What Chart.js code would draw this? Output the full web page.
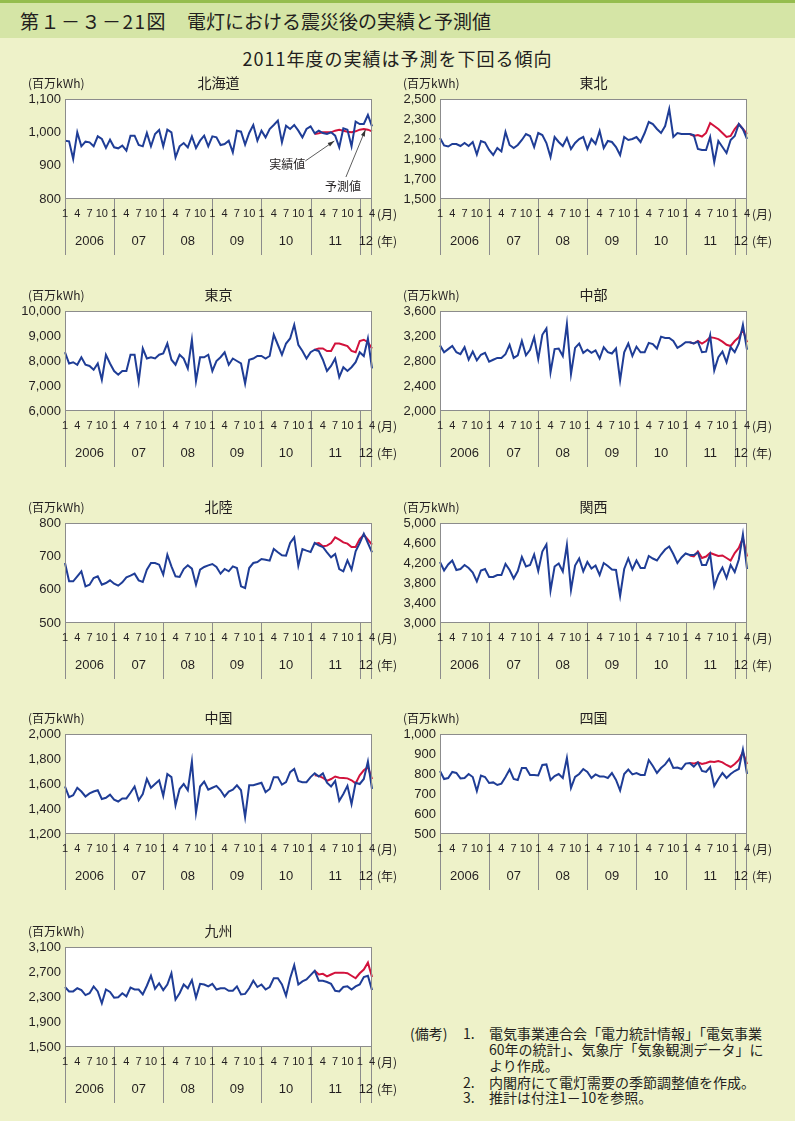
<!DOCTYPE html>
<html lang="ja">
<head>
<meta charset="utf-8">
<script src="https://cdn.jsdelivr.net/npm/chart.js@4"></script>
<style>
  body { margin: 0; width: 795px; height: 1121px; background: #eef2c9; position: relative; overflow: hidden;
         font-family: "Noto Sans CJK JP", sans-serif; color: #231f20; }
  #head { position: absolute; left: 0; top: 0; width: 795px; height: 35px; background: #d5e5a6; border-top: 3px solid #95bd4e; }
  #head .no { position: absolute; left: 20px; top: 4px; font-size: 19px; letter-spacing: 1.5px; white-space: pre; }
  #head .tt { position: absolute; left: 187px; top: 4px; font-size: 19px; white-space: pre; }
  #sub { position: absolute; top: 45px; left: 0; width: 795px; text-align: center; font-size: 18px; letter-spacing: 1px; }
  canvas { position: absolute; }
  .note { position: absolute; font-size: 14px; line-height: 16px; white-space: pre; }
</style>
</head>
<body>
<div id="head"><div class="no">第１－３－21図</div><div class="tt">電灯における震災後の実績と予測値</div></div>
<div id="sub">2011年度の実績は予測を下回る傾向</div>

<canvas id="c0" width="400" height="196"></canvas>
<canvas id="c1" width="400" height="196"></canvas>
<canvas id="c2" width="400" height="196"></canvas>
<canvas id="c3" width="400" height="196"></canvas>
<canvas id="c4" width="400" height="196"></canvas>
<canvas id="c5" width="400" height="196"></canvas>
<canvas id="c6" width="400" height="196"></canvas>
<canvas id="c7" width="400" height="196"></canvas>
<canvas id="c8" width="400" height="196"></canvas>

<div class="note" style="left:410px;top:1025px">(備考)</div>
<div class="note" style="left:463px;top:1025px">1.</div>
<div class="note" style="left:489px;top:1025px">電気事業連合会「電力統計情報」「電気事業</div>
<div class="note" style="left:489px;top:1041px">60年の統計」、気象庁「気象観測データ」に</div>
<div class="note" style="left:489px;top:1057px">より作成。</div>
<div class="note" style="left:463px;top:1074px">2.</div>
<div class="note" style="left:489px;top:1074px">内閣府にて電灯需要の季節調整値を作成。</div>
<div class="note" style="left:463px;top:1089px">3.</div>
<div class="note" style="left:489px;top:1089px">推計は付注1－10を参照。</div>

<script>
// 横軸：2006年1月～2012年4月（月次）
const years = ['2006', '07', '08', '09', '10', '11', '12'];
const monthTicks = [1, 4, 7, 10];
const lastMonth = 4;
const forecastStart = 61; // 予測値は2011年2月から

// 実績値（百万kWh）
const hokkaidoActual = [
  975, 973, 920, 1000, 958, 972, 970, 958, 988, 980, 953, 978,
  955, 952, 960, 945, 990, 990, 962, 958, 998, 958, 995, 1007,
  958, 1008, 1000, 925, 958, 968, 955, 988, 953, 975, 990, 958,
  988, 985, 962, 965, 975, 940, 1005, 1002, 963, 998, 1022, 975,
  1005, 985, 1010, 1022, 1035, 970, 1020, 1010, 1022, 1005, 985, 1010,
  1018, 997, 1005, 998, 995, 1000, 990, 955, 1012, 1008, 958, 1032,
  1025, 1025, 1052, 1018
];
const tohokuActual = [
  2110, 2035, 2025, 2050, 2050, 2030, 2060, 2030, 2070, 1945, 2080, 2065,
  1990, 1940, 2010, 1975, 2170, 2040, 2010, 2040, 2090, 2150, 2130, 2020,
  2160, 2140, 2060, 1920, 2120, 2070, 2030, 2110, 2000, 2060, 2100, 2120,
  2000, 2100, 2050, 2180, 2010, 2080, 2070, 2020, 1940, 2120, 2090, 2100,
  2120, 2070, 2160, 2270, 2250, 2200, 2160, 2230, 2400, 2120, 2160, 2150,
  2150, 2150, 2140, 2000, 1990, 1990, 2120, 1870, 2080, 2020, 1960, 2090,
  2130, 2250, 2200, 2100
];
const tokyoActual = [
  8350, 7900, 7950, 7850, 8150, 7850, 7800, 7650, 7900, 7250, 8250, 7900,
  7600, 7450, 7600, 7600, 8250, 8250, 7180, 8500, 8100, 8150, 8100, 8250,
  8300, 8700, 8050, 7850, 8250, 8100, 7700, 8850, 7200, 8150, 8150, 8250,
  7600, 8000, 8150, 8350, 7850, 8100, 8000, 7900, 7100, 8050, 8100, 8200,
  8200, 8100, 8200, 9050, 8650, 8250, 8700, 8900, 9450, 8650, 8400, 8100,
  8350, 8450, 8400, 8050, 7600, 7800, 8100, 7350, 7750, 7600, 7750, 7950,
  8350, 8200, 8900, 7700
];
const chubuActual = [
  3050, 2940, 2990, 3040, 2940, 2910, 3020, 2820, 2950, 2810, 2900, 2930,
  2790, 2820, 2850, 2850, 2910, 3060, 2850, 2890, 3120, 2890, 2980, 3180,
  2830, 3220, 3320, 2620, 2990, 3000, 2880, 3390, 2590, 3010, 3080, 2930,
  2980, 2930, 2970, 2840, 3020, 2940, 2920, 3000, 2490, 2940, 3080, 2880,
  3030, 2940, 2940, 3090, 3070, 3000, 3190, 3170, 3170, 3120, 3010, 3050,
  3100, 3100, 3080, 3110, 2940, 2950, 3210, 2650, 2860, 2950, 2780, 3020,
  2940, 3080, 3380, 2980
];
const hokurikuActual = [
  680, 625, 625, 640, 655, 610, 615, 635, 640, 615, 620, 628,
  618, 612, 622, 637, 642, 648, 628, 623, 660, 680, 680, 675,
  645, 705, 670, 640, 638, 662, 673, 663, 615, 660, 668, 673,
  677, 668, 648, 662, 655, 670, 665, 610, 605, 665, 680, 683,
  692, 690, 687, 722, 712, 703, 702, 740, 757, 672, 722, 717,
  713, 740, 733, 728, 712, 697, 707, 662, 655, 688, 660, 715,
  740, 768, 740, 712
];
const kansaiActual = [
  4220, 4050, 4170, 4250, 4060, 4080, 4160, 4100, 4010, 3830, 4050, 4080,
  3920, 3920, 3960, 3960, 4180, 4060, 3890, 4040, 4320, 4130, 4160, 4370,
  4040, 4430, 4570, 3650, 4130, 4190, 4030, 4560, 3660, 4150, 4290, 4030,
  4220, 4090, 4150, 3960, 4200, 4140, 4070, 4060, 3540, 4080, 4290, 4070,
  4250, 4100, 4100, 4340, 4290, 4250, 4370, 4470, 4530, 4380, 4200, 4310,
  4390, 4360, 4360, 4410, 4160, 4160, 4370, 3730, 3960, 4110, 3900, 4160,
  4020, 4270, 4770, 4080
];
const chugokuActual = [
  1580, 1495, 1510, 1570, 1540, 1500, 1525, 1540, 1550, 1480, 1490, 1515,
  1475, 1460, 1485, 1485, 1530, 1580, 1470, 1520, 1640, 1570, 1600, 1630,
  1505, 1680, 1655, 1430, 1560, 1600, 1550, 1780, 1370, 1580, 1620, 1555,
  1570, 1585, 1550, 1500, 1540, 1555, 1590, 1550, 1335, 1590, 1590, 1600,
  1610, 1535, 1560, 1655, 1655, 1595, 1615, 1695, 1720, 1625, 1615, 1615,
  1655, 1685, 1660, 1685, 1610, 1580, 1625, 1465, 1520, 1585, 1440, 1610,
  1600, 1640, 1780, 1560
];
const shikokuActual = [
  815, 775, 780, 810, 805, 778, 780, 800, 785, 715, 792, 785,
  755, 758, 745, 752, 785, 822, 775, 770, 830, 830, 795, 795,
  793, 845, 848, 770, 790, 800, 780, 880, 730, 785, 800, 825,
  810, 780, 798, 788, 788, 780, 805, 770, 718, 800, 822, 798,
  805, 795, 795, 870, 840, 805, 830, 848, 875, 830, 832, 825,
  852, 855, 837, 858, 815, 810, 835, 740, 775, 805, 780, 800,
  815, 825, 922, 800
];
const kyushuActual = [
  2460, 2390, 2390, 2440, 2410, 2330, 2360, 2470, 2390, 2200, 2420, 2380,
  2290, 2295, 2360, 2310, 2450, 2420, 2420, 2340, 2480, 2640, 2430, 2520,
  2410, 2500, 2680, 2260, 2360, 2500, 2440, 2570, 2290, 2510, 2500, 2470,
  2510, 2420, 2440, 2440, 2400, 2400, 2470, 2340, 2350, 2440, 2560, 2460,
  2500, 2420, 2460, 2600, 2600, 2500, 2320, 2600, 2810, 2500, 2550, 2580,
  2650, 2720, 2560, 2560, 2540, 2510, 2400, 2390, 2460, 2470, 2420, 2470,
  2500, 2620, 2640, 2410
];

// 予測値（2011年2月～2012年4月）
const hokkaidoForecast = [995, 997, 1000, 1000, 1000, 1005, 1008, 1005, 1002, 1000, 1003, 1008, 1010, 1008, 1003];
const tohokuForecast = [2150, 2130, 2140, 2125, 2160, 2260, 2230, 2200, 2160, 2120, 2130, 2200, 2250, 2200, 2150];
const tokyoForecast = [8450, 8500, 8500, 8400, 8400, 8700, 8700, 8650, 8600, 8400, 8350, 8800, 8850, 8750, 8500];
const chubuForecast = [3100, 3080, 3120, 3080, 3120, 3180, 3170, 3150, 3110, 3060, 3040, 3120, 3180, 3300, 3100];
const hokurikuForecast = [738, 740, 730, 732, 740, 757, 750, 742, 738, 728, 728, 752, 765, 750, 735];
const kansaiForecast = [4350, 4330, 4430, 4300, 4330, 4400, 4370, 4340, 4350, 4300, 4250, 4400, 4500, 4700, 4330];
const chugokuForecast = [1670, 1665, 1650, 1625, 1640, 1660, 1650, 1648, 1645, 1630, 1605, 1670, 1710, 1735, 1640];
const shikokuForecast = [855, 852, 858, 850, 855, 862, 860, 865, 858, 845, 835, 850, 870, 910, 850];
const kyushuForecast = [2720, 2660, 2670, 2630, 2660, 2690, 2690, 2690, 2680, 2640, 2600, 2680, 2740, 2850, 2620];

const BLUE = '#1f3d96';
const RED = '#d2123c';
const GRAY = '#8c8c8c';
const TEXT = '#231f20';
const rowTops = [99, 311, 523, 734, 947];

// 月ラベル
const months = [];
years.forEach((y, yi) => {
  for (let m = 1; m <= 12; m++) {
    if (yi === years.length - 1 && m > lastMonth) break;
    months.push(y + '/' + m);
  }
});

const panels = [
  { name: '北海道', col: 0, row: 0, min: 800, max: 1100, step: 100, actual: hokkaidoActual, forecast: hokkaidoForecast,
    callouts: [
      { text: '実績値', at: [54.3, 905], from: [18, -3], tip: [65.8, 974] },
      { text: '予測値', at: [67.9, 839], from: [3, -9], tip: [73.4, 1008] }
    ] },
  { name: '東北', col: 1, row: 0, min: 1500, max: 2500, step: 200, actual: tohokuActual, forecast: tohokuForecast },
  { name: '東京', col: 0, row: 1, min: 6000, max: 10000, step: 1000, actual: tokyoActual, forecast: tokyoForecast },
  { name: '中部', col: 1, row: 1, min: 2000, max: 3600, step: 400, actual: chubuActual, forecast: chubuForecast },
  { name: '北陸', col: 0, row: 2, min: 500, max: 800, step: 100, actual: hokurikuActual, forecast: hokurikuForecast },
  { name: '関西', col: 1, row: 2, min: 3000, max: 5000, step: 400, actual: kansaiActual, forecast: kansaiForecast },
  { name: '中国', col: 0, row: 3, min: 1200, max: 2000, step: 200, actual: chugokuActual, forecast: chugokuForecast },
  { name: '四国', col: 1, row: 3, min: 500, max: 1000, step: 100, actual: shikokuActual, forecast: shikokuForecast },
  { name: '九州', col: 0, row: 4, min: 1500, max: 3100, step: 400, actual: kyushuActual, forecast: kyushuForecast }
];

// 枠・月/年の目盛り・見出しを描く
const deco = {
  id: 'deco',
  beforeDraw(chart) {
    const { ctx, chartArea: a } = chart;
    ctx.save();
    ctx.fillStyle = '#ffffff';
    ctx.fillRect(a.left, a.top, a.width, a.height);
    ctx.restore();
  },
  afterDraw(chart, args, opt) {
    const { ctx, chartArea: a } = chart;
    const x = chart.scales.x, y = chart.scales.y;
    ctx.save();
    ctx.strokeStyle = GRAY;
    ctx.lineWidth = 1;
    ctx.strokeRect(Math.round(a.left) + 0.5, Math.round(a.top) + 0.5, Math.round(a.width) - 1, Math.round(a.height) - 1);

    const bounds = years.map((yy, i) => x.getPixelForValue(i * 12));
    bounds.push(a.right);
    ctx.beginPath();
    bounds.forEach((px, i) => {
      const p = i === bounds.length - 1 ? Math.round(px) - 0.5 : Math.round(px) + 0.5;
      ctx.moveTo(p, a.bottom);
      ctx.lineTo(p, a.bottom + 56);
    });
    ctx.stroke();

    ctx.fillStyle = TEXT;
    ctx.textAlign = 'center';
    ctx.textBaseline = 'middle';
    ctx.font = '11px "Liberation Sans"';
    years.forEach((yy, yi) => {
      monthTicks.forEach(m => {
        const idx = yi * 12 + m - 1;
        if (idx < months.length) ctx.fillText(String(m), x.getPixelForValue(idx), a.bottom + 15);
      });
    });
    ctx.font = '13px "Liberation Sans"';
    years.forEach((yy, yi) => ctx.fillText(yy, (bounds[yi] + bounds[yi + 1]) / 2, a.bottom + 42));

    ctx.textAlign = 'left';
    ctx.font = '12px "Noto Sans CJK JP"';
    ctx.fillText('(月)', a.right + 5, a.bottom + 15);
    ctx.fillText('(年)', a.right + 5, a.bottom + 42);
    ctx.fillText('(百万kWh)', a.left - 37, a.top - 16);
    ctx.textAlign = 'center';
    ctx.font = '14px "Noto Sans CJK JP"';
    ctx.fillText(opt.title, (a.left + a.right) / 2, a.top - 16);

    (opt.callouts || []).forEach(c => {
      const lx = x.getPixelForValue(c.at[0]), ly = y.getPixelForValue(c.at[1]);
      const sx = lx + c.from[0], sy = ly + c.from[1];
      const tx = x.getPixelForValue(c.tip[0]), ty = y.getPixelForValue(c.tip[1]);
      ctx.font = '12px "Noto Sans CJK JP"';
      ctx.fillStyle = TEXT;
      ctx.fillText(c.text, lx, ly);
      ctx.strokeStyle = '#333';
      ctx.lineWidth = 0.8;
      ctx.beginPath();
      ctx.moveTo(sx, sy);
      ctx.lineTo(tx, ty);
      ctx.stroke();
      const ang = Math.atan2(ty - sy, tx - sx);
      ctx.fillStyle = '#333';
      ctx.beginPath();
      ctx.moveTo(tx, ty);
      ctx.lineTo(tx - 7 * Math.cos(ang - 0.3), ty - 7 * Math.sin(ang - 0.3));
      ctx.lineTo(tx - 7 * Math.cos(ang + 0.3), ty - 7 * Math.sin(ang + 0.3));
      ctx.closePath();
      ctx.fill();
    });
    ctx.restore();
  }
};

panels.forEach((p, i) => {
  const cv = document.getElementById('c' + i);
  const plotLeft = p.col ? 45 : 65;
  cv.style.left = (p.col ? 395 : 0) + 'px';
  cv.style.top = (rowTops[p.row] - 32) + 'px';
  const forecastData = Array(forecastStart).fill(null).concat(p.forecast);

  new Chart(cv, {
    type: 'line',
    data: {
      labels: months,
      datasets: [
        { label: '実績値', data: p.actual, borderColor: BLUE, borderWidth: 2, pointRadius: 0, tension: 0 },
        { label: '予測値', data: forecastData, borderColor: RED, borderWidth: 2, pointRadius: 0, tension: 0 }
      ]
    },
    options: {
      responsive: false,
      animation: false,
      devicePixelRatio: 1,
      locale: 'en-US',
      layout: { padding: { left: 0, top: 32, right: 400 - plotLeft - 307, bottom: 196 - 32 - 100 } },
      plugins: {
        legend: { display: false },
        tooltip: { enabled: false },
        deco: { title: p.name, callouts: p.callouts }
      },
      scales: {
        x: { type: 'category', display: false },
        y: {
          min: p.min,
          max: p.max,
          afterFit: s => { s.width = plotLeft; },
          grid: { display: false, drawTicks: false },
          border: { display: false },
          ticks: { stepSize: p.step, padding: 4, color: TEXT, font: { family: 'Liberation Sans', size: 13 } }
        }
      }
    },
    plugins: [deco]
  });
});
</script>
</body>
</html>
